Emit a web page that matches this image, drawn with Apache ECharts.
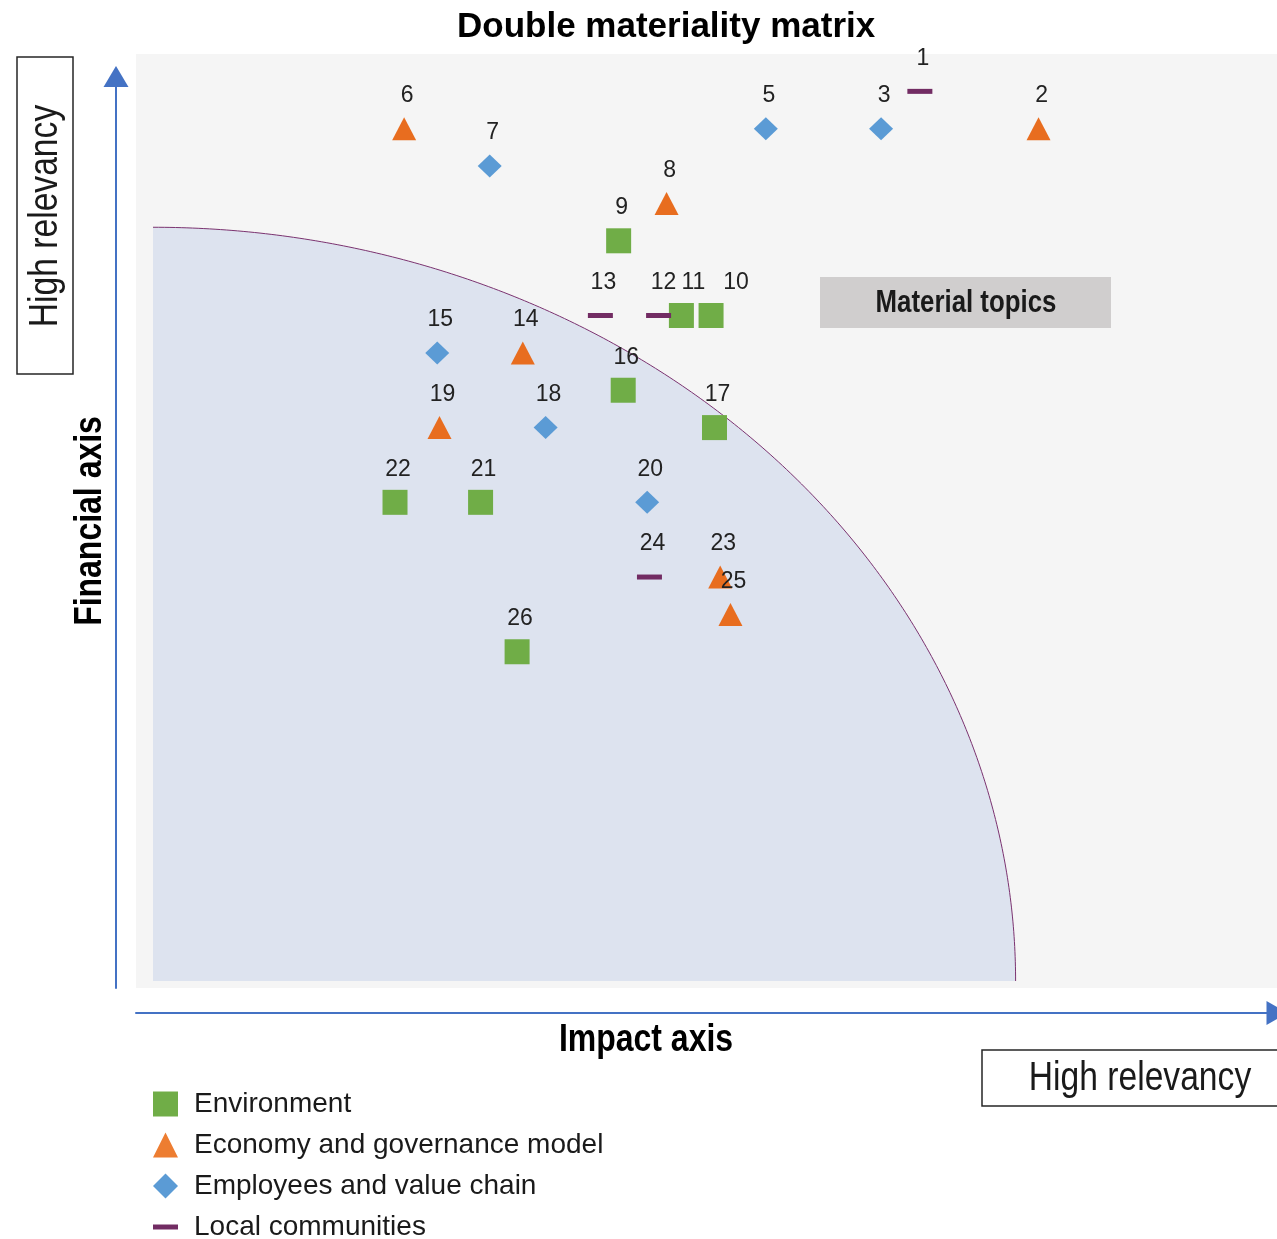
<!DOCTYPE html>
<html><head><meta charset="utf-8">
<script src="https://cdn.jsdelivr.net/npm/echarts@6/dist/echarts.min.js"></script>
<style>html,body{margin:0;padding:0;background:#fff}#c{width:1277px;height:1239px}</style>
</head><body><div id="c"></div>
<script>
// ---- data ----
const categories = ['Environment', 'Economy and governance model', 'Employees and value chain', 'Local communities'];
const environmentIds = [9, 10, 11, 16, 17, 21, 22, 26];
const environmentImpact = [42.3, 50.4, 47.8, 42.7, 50.7, 30.2, 22.7, 33.4];
const environmentFinancial = [80, 72, 72, 64, 60, 52, 52, 36];
const economyIds = [2, 6, 8, 14, 19, 23, 25];
const economyImpact = [79.1, 23.5, 46.5, 33.9, 26.6, 51.2, 52.1];
const economyFinancial = [92, 92, 84, 68, 60, 44, 40];
const employeesIds = [3, 5, 7, 15, 18, 20];
const employeesImpact = [65.3, 55.2, 31.0, 26.4, 35.9, 44.8];
const employeesFinancial = [92, 92, 88, 68, 60, 52];
const communitiesIds = [1, 12, 13, 24];
const communitiesImpact = [68.7, 45.8, 40.7, 45.0];
const communitiesFinancial = [96, 72, 72, 44];
// non-material zone: ellipse quadrant [centerX, centerY, radiusX, radiusY] in axis units
const boundary = [1.49, 0.75, 75.6, 80.7];

// ---- styling ----
const SANS = "'Liberation Sans', Arial, sans-serif";
const NARROW_SCALE = 0.82;
const labelShift = {10: 25, 11: 12, 12: 5};

function build(ids, xs, ys) {
  return ids.map((id, i) => ({
    value: [xs[i], ys[i], id],
    label: {offset: [labelShift[id] !== undefined ? labelShift[id] : 3, -33]}
  }));
}
const pointLabel = {
  show: true, position: 'inside', formatter: p => String(p.value[2]),
  fontFamily: SANS, fontSize: 23, color: '#222222'
};
function narrowText(x, y, text, font, rot, fill) {
  return {type: 'text', x: x, y: y, rotation: rot || 0, scaleX: NARROW_SCALE, z: 6,
    style: {text: text, align: 'center', verticalAlign: 'middle', font: font, fill: fill || '#1a1a1a'}};
}

const chart = echarts.init(document.getElementById('c'), null, {renderer: 'canvas'});
chart.setOption({
  animation: false,
  backgroundColor: '#ffffff',
  title: {
    text: 'Double materiality matrix', left: 457, top: 10, padding: 0,
    textStyle: {fontFamily: SANS, fontWeight: 'bold', fontSize: 35, color: '#000'}
  },
  grid: [
    {left: 136, right: 0, top: 54, bottom: 251, show: true, backgroundColor: '#F5F5F5', borderWidth: 0},
    {left: 136, right: -5, top: 76.5, bottom: 251, show: false}
  ],
  xAxis: [
    {gridIndex: 0, type: 'value', min: 0, max: 100, show: false},
    {gridIndex: 1, type: 'value', min: 0, max: 1, offset: 25,
     axisLine: {show: true, onZero: false, lineStyle: {color: '#4472C4', width: 2}, symbol: ['none', 'triangle'], symbolSize: [24, 21]},
     axisTick: {show: false}, axisLabel: {show: false}, splitLine: {show: false}}
  ],
  yAxis: [
    {gridIndex: 0, type: 'value', min: 0, max: 100, show: false},
    {gridIndex: 1, type: 'value', min: 0, max: 1, offset: 20,
     axisLine: {show: true, onZero: false, lineStyle: {color: '#4472C4', width: 2}, symbol: ['none', 'triangle'], symbolSize: [25, 21]},
     axisTick: {show: false}, axisLabel: {show: false}, splitLine: {show: false}}
  ],
  legend: {
    orient: 'vertical', left: 153, top: 1090, height: 200, padding: 0, itemGap: 13, itemWidth: 25, itemHeight: 25,
    selectedMode: false,
    textStyle: {fontFamily: SANS, fontSize: 28, lineHeight: 28, color: '#1a1a1a', padding: [0, 0, 0, 11]},
    data: [
      {name: categories[0], icon: 'rect'},
      {name: categories[1], icon: 'triangle', itemStyle: {color: '#ED7D31'}},
      {name: categories[2], icon: 'diamond'},
      {name: categories[3], icon: 'path://M0,0H25V5H0Z'}
    ]
  },
  graphic: [
    {type: 'rect', shape: {x: 820, y: 277, width: 291, height: 51}, style: {fill: '#D0CECE'}, z: 5},
    narrowText(966, 303, 'Material topics', 'bold 31.5px ' + SANS),
    {type: 'rect', shape: {x: 17, y: 57, width: 56, height: 317}, style: {fill: 'none', stroke: '#262626', lineWidth: 1.5}},
    narrowText(46, 216, 'High relevancy', '41px ' + SANS, Math.PI / 2),
    {type: 'rect', shape: {x: 982, y: 1050, width: 310, height: 56}, style: {fill: 'none', stroke: '#262626', lineWidth: 1.5}},
    narrowText(1140, 1079, 'High relevancy', '41px ' + SANS),
    narrowText(90, 521, 'Financial axis', 'bold 39px ' + SANS, Math.PI / 2, '#000'),
    narrowText(646, 1040, 'Impact axis', 'bold 39px ' + SANS, 0, '#000')
  ],
  series: [
    {
      type: 'custom', xAxisIndex: 0, yAxisIndex: 0, z: 1, silent: true,
      data: [boundary],
      renderItem: function (params, api) {
        const c = api.coord([api.value(0), api.value(1)]);
        const ex = api.coord([api.value(0) + api.value(2), api.value(1)]);
        const ey = api.coord([api.value(0), api.value(1) + api.value(3)]);
        const rx = ex[0] - c[0], ry = c[1] - ey[1];
        const pts = [];
        for (let i = 0; i <= 240; i++) {
          const t = i / 240 * Math.PI / 2;
          pts.push([c[0] + rx * Math.sin(t), c[1] - ry * Math.cos(t)]);
        }
        return {type: 'group', children: [
          {type: 'polygon', shape: {points: [[c[0], c[1]]].concat(pts)}, style: {fill: '#DDE3EF'}},
          {type: 'polyline', shape: {points: pts}, style: {stroke: '#7B3370', lineWidth: 1, fill: null}}
        ]};
      }
    },
    {name: categories[0], type: 'scatter', z: 3, symbol: 'rect', symbolSize: 25,
     itemStyle: {color: '#70AD47', opacity: 1}, label: pointLabel, data: build(environmentIds, environmentImpact, environmentFinancial)},
    {name: categories[1], type: 'scatter', z: 3, symbol: 'triangle', symbolSize: [24, 23],
     itemStyle: {color: '#E86D1F', opacity: 1}, label: pointLabel, data: build(economyIds, economyImpact, economyFinancial)},
    {name: categories[2], type: 'scatter', z: 3, symbol: 'diamond', symbolSize: [24, 23],
     itemStyle: {color: '#5B9BD5', opacity: 1}, label: pointLabel, data: build(employeesIds, employeesImpact, employeesFinancial)},
    {name: categories[3], type: 'scatter', z: 3, symbol: 'path://M0,0H25V5H0Z', symbolSize: [25, 5],
     itemStyle: {color: '#722C63', opacity: 1}, label: pointLabel, data: build(communitiesIds, communitiesImpact, communitiesFinancial)}
  ]
});
</script>
</body></html>
